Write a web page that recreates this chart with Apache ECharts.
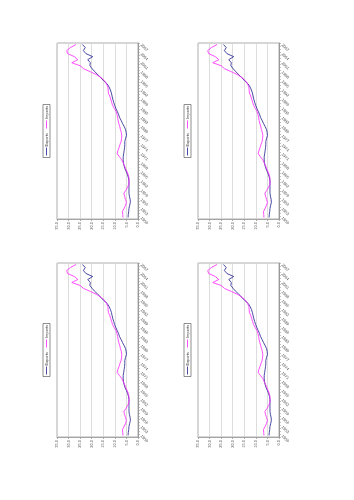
<!DOCTYPE html>
<html><head><meta charset="utf-8">
<script src="https://cdn.jsdelivr.net/npm/echarts@6/dist/echarts.min.js"></script>
<style>html,body{margin:0;padding:0;background:#fff}#c{width:354px;height:500px}</style>
</head><body><div id="c"></div>
<script>
const years = ['1950','1951','1952','1953','1954','1955','1956','1957','1958','1959',
'1960','1961','1962','1963','1964','1965','1966','1967','1968','1969',
'1970','1971','1972','1973','1974','1975','1976','1977','1978','1979',
'1980','1981','1982','1983','1984','1985','1986','1987','1988','1989',
'1990','1991','1992','1993','1994','1995','1996','1997','1998','1999',
'2000','2001','2002','2003','2004','2005','2006','2007'];
const exportsData = [4.3,4.2,4.0,3.9,3.6,3.3,3.4,3.7,3.9,3.9,
3.9,3.9,3.9,4.1,4.5,5.0,5.6,6.0,6.3,6.4,
6.4,6.2,6.0,5.8,5.7,5.7,5.4,5.0,5.1,5.4,
6.0,6.7,7.3,8.0,8.4,9.0,9.6,10.1,10.5,10.9,
11.2,11.5,11.9,12.5,13.3,14.8,16.0,17.3,18.6,19.8,
20.8,20.6,21.7,19.6,22.5,23.6,22.8,24.0];
const importsData = [6.5,6.6,6.7,6.0,5.4,5.0,5.4,5.8,6.1,5.2,
4.5,3.9,3.9,3.9,4.2,4.7,5.3,5.8,6.4,7.0,
8.0,9.0,8.7,8.2,7.8,7.3,7.1,7.0,7.2,7.6,
7.9,8.3,8.6,8.8,9.1,9.5,10.3,11.0,11.4,11.8,
12.2,12.8,12.9,13.0,13.6,14.4,15.8,17.8,20.5,23.5,
25.0,28.6,26.0,27.5,30.4,30.8,29.2,26.8];
const seriesNames = ['Exports','Imports'];
const valueMin = 0, valueMax = 35, valueStep = 5;

const FONT = 'Liberation Sans';
const panels = [
  {left:57, top:43, width:81, height:176, lx:46.5, ly:131},
  {left:57, top:263, width:81, height:174, lx:46.5, ly:350},
  {left:198, top:43, width:81, height:176, lx:187.5, ly:131},
  {left:198, top:263, width:81, height:174, lx:187.5, ly:350}
];
const colors = ['#1c1c8c','#ff22ff'];

const grid = [], xAxis = [], yAxis = [], series = [], graphic = [];
panels.forEach((p, i) => {
  grid.push({left:p.left, top:p.top, width:p.width, height:p.height, show:true,
    borderColor:'#999', borderWidth:0.8, backgroundColor:'#fff'});
  xAxis.push({gridIndex:i, type:'value', inverse:true, min:valueMin, max:valueMax, interval:valueStep,
    position:'bottom',
    axisLine:{show:true, lineStyle:{color:'#999', width:0.8}},
    axisTick:{show:true, length:2, lineStyle:{color:'#999', width:0.8}},
    splitLine:{show:true, lineStyle:{color:'#d4d4d4', width:0.8}},
    axisLabel:{rotate:90, fontSize:4, color:'#555', fontFamily:FONT, margin:3,
      formatter:v => v.toFixed(1)}});
  yAxis.push({gridIndex:i, type:'category', position:'right', data:years, boundaryGap:true,
    axisLine:{show:true, lineStyle:{color:'#888', width:0.8}},
    axisTick:{show:true, interval:0, length:2, inside:false, lineStyle:{color:'#999', width:0.6}},
    splitLine:{show:false},
    axisLabel:{interval:2, rotate:-45, fontSize:4, color:'#555', fontFamily:FONT, margin:3}});
  [exportsData, importsData].forEach((d, k) => {
    series.push({type:'line', name:seriesNames[k], xAxisIndex:i, yAxisIndex:i,
      data:d, symbol:'none', smooth:false, animation:false,
      lineStyle:{color:colors[k], width:0.8}});
  });
  graphic.push({type:'group', x:p.lx, y:p.ly, rotation:Math.PI/2, children:[
    {type:'rect', shape:{x:-26.5, y:-3.5, width:53, height:7},
      style:{fill:'#fff', stroke:'#444', lineWidth:0.6}},
    {type:'line', shape:{x1:-24.5, y1:0, x2:-16.5, y2:0}, style:{stroke:colors[0], lineWidth:0.8}},
    {type:'text', x:-15.5, y:0, style:{text:seriesNames[0], fontSize:4, fill:'#333',
      fontFamily:FONT, align:'left', verticalAlign:'middle'}},
    {type:'line', shape:{x1:2.5, y1:0, x2:10.5, y2:0}, style:{stroke:colors[1], lineWidth:0.8}},
    {type:'text', x:12, y:0, style:{text:seriesNames[1], fontSize:4, fill:'#333',
      fontFamily:FONT, align:'left', verticalAlign:'middle'}}
  ]});
});

const chart = echarts.init(document.getElementById('c'), null, {renderer:'canvas'});
chart.setOption({animation:false, backgroundColor:'#fff', grid, xAxis, yAxis, series, graphic});
</script>
</body></html>
